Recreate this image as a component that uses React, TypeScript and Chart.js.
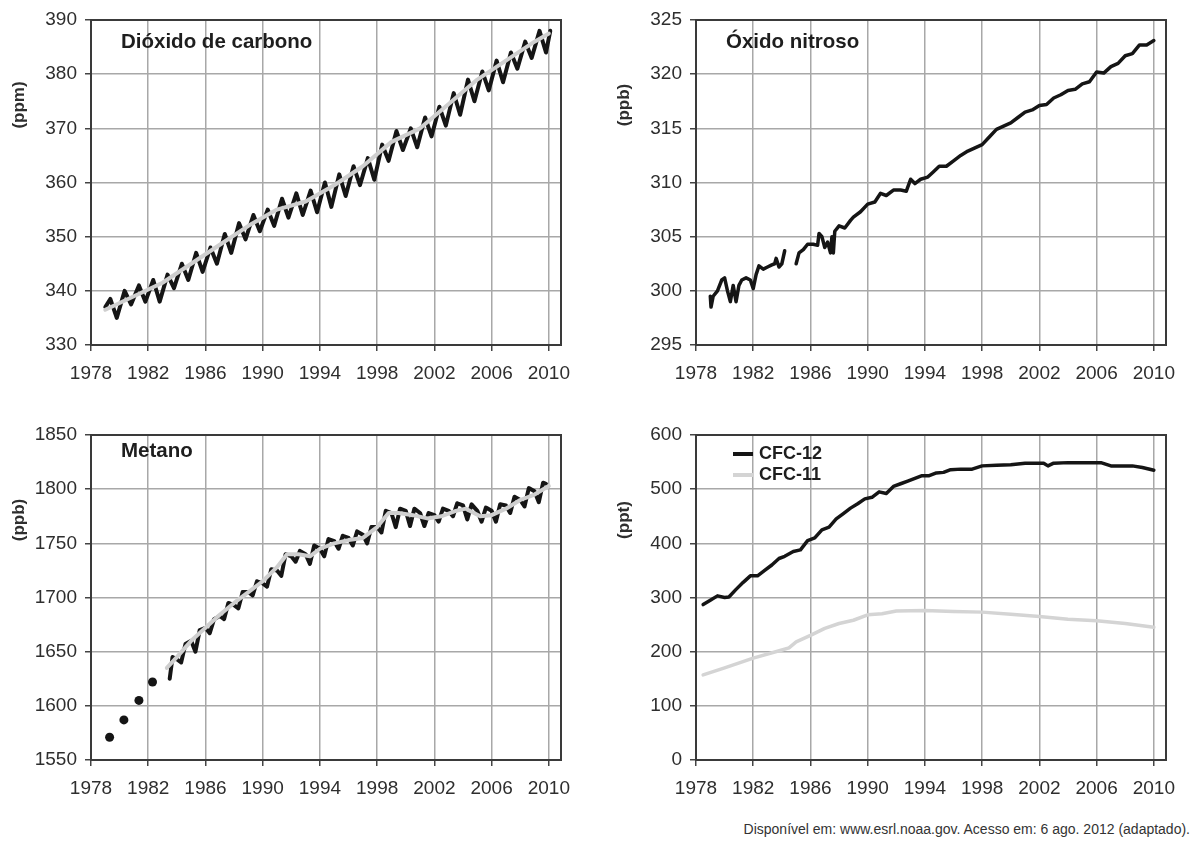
import { useEffect, useRef } from 'react';
import { Chart, registerables } from 'chart.js';

Chart.register(...registerables);

// eixo x comum
const xTickYears = [1978, 1982, 1986, 1990, 1994, 1998, 2002, 2006, 2010];

// Dióxido de carbono (ppm) – serie mensal (picos / vales) e tendencia
const co2Years = [
  1979.0, 1979.35, 1979.8, 1980.35, 1980.8, 1981.35, 1981.8, 1982.35, 1982.8, 1983.35, 1983.8,
  1984.35, 1984.8, 1985.35, 1985.8, 1986.35, 1986.8, 1987.35, 1987.8, 1988.35, 1988.8, 1989.35,
  1989.8, 1990.35, 1990.8, 1991.35, 1991.8, 1992.35, 1992.8, 1993.35, 1993.8, 1994.35, 1994.8,
  1995.35, 1995.8, 1996.35, 1996.8, 1997.35, 1997.8, 1998.35, 1998.8, 1999.35, 1999.8, 2000.35,
  2000.8, 2001.35, 2001.8, 2002.35, 2002.8, 2003.35, 2003.8, 2004.35, 2004.8, 2005.35, 2005.8,
  2006.35, 2006.8, 2007.35, 2007.8, 2008.35, 2008.8, 2009.35, 2009.8, 2010.1,
];
const co2Values = [
  337, 338.5, 335, 340, 337.5, 341, 338, 342, 338, 343, 340.5,
  345, 342, 347, 343.5, 348, 345, 350.5, 347, 352.5, 349.5, 354,
  351, 355, 352, 357, 353.5, 358, 354, 358.5, 354.5, 360, 355.5,
  361.5, 357.5, 363, 359.5, 364.5, 360.5, 367, 364, 369.5, 366, 370,
  366.5, 372, 368.5, 374, 370.5, 376.5, 372.5, 379, 375, 380.5, 377,
  382.5, 378.5, 384, 381, 386, 383, 388, 384, 388,
];
const co2TrendYears = [1979, 1981, 1983, 1985, 1987, 1989, 1991, 1993, 1995, 1997, 1999, 2001, 2003, 2005, 2007, 2009, 2010];
const co2TrendValues = [336.5, 339, 341.5, 345, 348.5, 352, 355, 356.5, 359.5, 363, 367.5, 370, 374.5, 379, 382.5, 386, 387.5];

// Óxido nitroso (ppb) – duas partes com falha em 1984
const n2oEarlyYears = [
  1979.0, 1979.05, 1979.2, 1979.5, 1979.8, 1980.0, 1980.2, 1980.4, 1980.6, 1980.8, 1981.0,
  1981.2, 1981.5, 1981.8, 1982.0, 1982.2, 1982.4, 1982.7, 1983.0, 1983.3, 1983.5, 1983.6,
  1983.8, 1984.0, 1984.2,
];
const n2oEarlyValues = [
  299.5, 298.5, 299.5, 300, 301, 301.2, 300, 299, 300.5, 299, 300.5,
  301, 301.2, 301, 300.2, 301.5, 302.3, 302, 302.2, 302.4, 302.5, 303,
  302.2, 302.5, 303.7,
];
const n2oLateYears = [
  1985.0, 1985.2, 1985.5, 1985.8, 1986.2, 1986.5, 1986.6, 1986.8, 1987.0, 1987.2, 1987.4,
  1987.5, 1987.6, 1987.7, 1988.0, 1988.4, 1988.8, 1989.0, 1989.5, 1990.0, 1990.5, 1990.9,
  1991.3, 1991.8, 1992.3, 1992.7, 1993.0, 1993.3, 1993.7, 1994.2, 1994.6, 1995.0, 1995.5,
  1996.0, 1996.5, 1997.0, 1997.5, 1998.0, 1998.5, 1999.0, 1999.5, 2000.0, 2000.5, 2001.0,
  2001.5, 2002.0, 2002.5, 2003.0, 2003.5, 2004.0, 2004.5, 2005.0, 2005.5, 2006.0, 2006.5,
  2007.0, 2007.5, 2008.0, 2008.5, 2009.0, 2009.5, 2010.0,
];
const n2oLateValues = [
  302.5, 303.5, 303.8, 304.3, 304.3, 304.2, 305.3, 305, 304, 304.5, 303.5,
  305, 303.5, 305.5, 306, 305.8, 306.5, 306.8, 307.3, 308, 308.2, 309,
  308.8, 309.3, 309.3, 309.2, 310.3, 309.9, 310.3, 310.5, 311, 311.5, 311.5,
  312, 312.5, 312.9, 313.2, 313.5, 314.2, 314.9, 315.2, 315.5, 316, 316.5,
  316.7, 317.1, 317.2, 317.8, 318.1, 318.5, 318.6, 319.1, 319.3, 320.2, 320.1,
  320.7, 321, 321.7, 321.9, 322.7, 322.7, 323.1,
];

// Metano (ppb) – medidas antigas (pontos), serie e tendencia
const ch4DotYears = [1979.3, 1980.3, 1981.35, 1982.3];
const ch4DotValues = [1571, 1587, 1605, 1622];
const ch4Years = [
  1983.5, 1983.7, 1984.0, 1984.3, 1984.6, 1985.0, 1985.3, 1985.6, 1986.0, 1986.3, 1986.6,
  1987.0, 1987.3, 1987.6, 1988.0, 1988.3, 1988.6, 1989.0, 1989.3, 1989.6, 1990.0, 1990.3,
  1990.6, 1991.0, 1991.3, 1991.6, 1992.0, 1992.3, 1992.6, 1993.0, 1993.3, 1993.6, 1994.0,
  1994.3, 1994.6, 1995.0, 1995.3, 1995.6, 1996.0, 1996.3, 1996.6, 1997.0, 1997.3, 1997.6,
  1998.0, 1998.3, 1998.6, 1999.0, 1999.3, 1999.6, 2000.0, 2000.3, 2000.6, 2001.0, 2001.3,
  2001.6, 2002.0, 2002.3, 2002.6, 2003.0, 2003.3, 2003.6, 2004.0, 2004.3, 2004.6, 2005.0,
  2005.3, 2005.6, 2006.0, 2006.3, 2006.6, 2007.0, 2007.3, 2007.6, 2008.0, 2008.3, 2008.6,
  2009.0, 2009.3, 2009.6, 2009.8,
];
const ch4Values = [
  1625, 1645, 1643, 1640, 1657, 1660, 1650, 1670, 1672, 1667, 1680,
  1683, 1680, 1695, 1693, 1690, 1705, 1705, 1702, 1715, 1713, 1710,
  1726, 1725, 1720, 1740, 1738, 1733, 1743, 1740, 1731, 1748, 1745,
  1738, 1754, 1752, 1745, 1757, 1755, 1748, 1761, 1758, 1750, 1765,
  1765, 1760, 1780, 1778, 1765, 1782, 1780, 1766, 1782, 1778, 1766,
  1778, 1776, 1770, 1782, 1780, 1775, 1787, 1785, 1772, 1786, 1780,
  1770, 1783, 1780, 1770, 1786, 1785, 1778, 1793, 1790, 1784, 1801,
  1798, 1788, 1806, 1805,
];
const ch4TrendYears = [
  1983.3, 1984, 1985, 1986, 1987, 1988, 1989, 1990, 1991, 1991.7, 1992.5, 1993.3, 1994, 1995,
  1996, 1997, 1998, 1998.8, 1999.5, 2000.5, 2001.5, 2002.5, 2003.5, 2004.2, 2005.2, 2006, 2007,
  2008, 2009, 2010,
];
const ch4TrendValues = [
  1635, 1645, 1660, 1672, 1684, 1695, 1705, 1715, 1728, 1740, 1740, 1738, 1745, 1750,
  1753, 1755, 1765, 1778, 1778, 1776, 1773, 1775, 1780, 1782, 1775, 1776, 1782,
  1790, 1795, 1803,
];

// CFC (ppt)
const cfc12Years = [
  1978.5, 1979, 1979.5, 1980.0, 1980.3, 1980.8, 1981.3, 1981.8, 1982.3, 1982.8, 1983.3, 1983.8,
  1984.2, 1984.8, 1985.3, 1985.8, 1986.3, 1986.8, 1987.3, 1987.8, 1988.3, 1988.8, 1989.3, 1989.8,
  1990.3, 1990.8, 1991.3, 1991.8, 1992.3, 1992.8, 1993.3, 1993.8, 1994.3, 1994.8, 1995.3, 1995.8,
  1996.5, 1997.3, 1998.0, 1999, 2000, 2001, 2002.3, 2002.6, 2003, 2004, 2005, 2006.3, 2007,
  2008.5, 2009.2, 2010.0,
];
const cfc12Values = [
  287, 295, 303, 300, 301, 315, 328, 340, 340, 350, 360, 372,
  376, 385, 388, 405, 410, 425, 430, 445, 455, 465, 473, 482,
  485, 495, 492, 505, 510, 515, 520, 525, 525, 530, 531, 536,
  537, 537, 543, 544, 545, 548, 548, 543, 548, 549, 549, 549, 543,
  543, 540, 535,
];
const cfc11Years = [1978.5, 1980, 1982, 1984, 1984.5, 1985, 1986, 1987, 1988, 1989, 1990, 1991, 1992, 1994, 1996, 1998, 2000, 2002, 2004, 2006, 2008, 2010];
const cfc11Values = [157, 170, 188, 203, 207, 218, 230, 243, 252, 258, 268, 270, 275, 276, 274, 273, 269, 265, 260, 257, 252, 245];

const FONT = '"Liberation Sans", Arial, Helvetica, sans-serif';
const TEXT = '#2e2e2e';

interface Series {
  label: string;
  years: number[];
  values: number[];
  color: string;
  width: number;
  order: number;
  dots?: boolean;
}

interface PanelProps {
  left: number;
  top: number;
  yMin: number;
  yMax: number;
  yStep: number;
  unit: string;
  title?: string;
  titleDy?: number;
  series: Series[];
  legend?: Series[];
}

function Panel({ left, top, yMin, yMax, yStep, unit, title, titleDy = 22, series, legend }: PanelProps) {
  const canvasRef = useRef<HTMLCanvasElement | null>(null);

  useEffect(() => {
    if (!canvasRef.current) return;

    const decor = {
      id: 'decor',
      afterDraw(chart: Chart) {
        const { ctx, chartArea: a } = chart;
        ctx.save();
        // moldura
        ctx.strokeStyle = '#3a3a3a';
        ctx.lineWidth = 2;
        ctx.strokeRect(a.left, a.top, a.right - a.left, a.bottom - a.top);
        // unidade
        ctx.fillStyle = TEXT;
        ctx.font = `bold 17px ${FONT}`;
        ctx.textAlign = 'center';
        ctx.textBaseline = 'middle';
        ctx.save();
        ctx.translate(a.left - 72, a.top + 85);
        ctx.rotate(-Math.PI / 2);
        ctx.fillText(unit, 0, 0);
        ctx.restore();
        // titulo
        if (title) {
          ctx.fillStyle = '#1e1e1e';
          ctx.font = `bold 20.5px ${FONT}`;
          ctx.textAlign = 'left';
          ctx.fillText(title, a.left + 30, a.top + titleDy);
        }
        // legenda
        if (legend) {
          legend.forEach((s, i) => {
            const y = a.top + 19 + i * 21;
            ctx.strokeStyle = s.color;
            ctx.lineWidth = 4;
            ctx.beginPath();
            ctx.moveTo(a.left + 37, y);
            ctx.lineTo(a.left + 57, y);
            ctx.stroke();
            ctx.fillStyle = '#1e1e1e';
            ctx.font = `bold 18px ${FONT}`;
            ctx.textAlign = 'left';
            ctx.fillText(s.label, a.left + 63, y);
          });
        }
        ctx.restore();
      },
    };

    const chart = new Chart(canvasRef.current, {
      type: 'line',
      data: {
        datasets: series.map((s) => ({
          label: s.label,
          data: s.years.map((x, i) => ({ x, y: s.values[i] })),
          borderColor: s.color,
          backgroundColor: s.color,
          borderWidth: s.width,
          showLine: !s.dots,
          pointRadius: s.dots ? 4.5 : 0,
          pointBorderWidth: 0,
          tension: 0,
          borderJoinStyle: 'round' as const,
          borderCapStyle: 'round' as const,
          order: s.order,
        })),
      },
      options: {
        responsive: false,
        animation: false,
        layout: { padding: { top: 20, right: 39, left: 0, bottom: 0 } },
        plugins: {
          legend: { display: false },
          tooltip: { enabled: false },
        },
        scales: {
          x: {
            type: 'linear',
            min: 1978,
            max: 2010.85,
            afterBuildTicks: (scale: any) => {
              scale.ticks = xTickYears.map((value) => ({ value }));
            },
            afterFit: (scale: any) => {
              scale.height = 55;
            },
            grid: { color: '#a8a8a8', lineWidth: 1.5, tickLength: 6, tickColor: '#444' },
            border: { color: '#3a3a3a', width: 2 },
            ticks: {
              color: TEXT,
              font: { family: FONT, size: 19 },
              padding: 11,
              maxRotation: 0,
              autoSkip: false,
              callback: (v: any) => String(v),
            },
          },
          y: {
            min: yMin,
            max: yMax,
            afterFit: (scale: any) => {
              scale.width = 91;
            },
            grid: { color: '#a8a8a8', lineWidth: 1.5, tickLength: 6, tickColor: '#444' },
            border: { color: '#3a3a3a', width: 2 },
            ticks: {
              stepSize: yStep,
              color: TEXT,
              font: { family: FONT, size: 19 },
              padding: 8,
              callback: (v: any) => String(v),
            },
          },
        },
      },
      plugins: [decor],
    });

    return () => {
      chart.destroy();
    };
  }, []);

  return (
    <canvas
      ref={canvasRef}
      width={600}
      height={400}
      style={{ position: 'absolute', left, top, width: 600, height: 400 }}
    />
  );
}

const BLACK = '#151515';
const LIGHT = '#cfcfcf';

export default function App() {
  const cfc12: Series = { label: 'CFC-12', years: cfc12Years, values: cfc12Values, color: BLACK, width: 3.5, order: 0 };
  const cfc11: Series = { label: 'CFC-11', years: cfc11Years, values: cfc11Values, color: '#d4d4d4', width: 3.5, order: 1 };

  return (
    <div style={{ position: 'absolute', left: 0, top: 0, width: 1200, height: 857, background: '#fff', overflow: 'hidden' }}>
      <Panel
        left={0}
        top={0}
        yMin={330}
        yMax={390}
        yStep={10}
        unit="(ppm)"
        title="Dióxido de carbono"
        series={[
          { label: 'Tendência', years: co2TrendYears, values: co2TrendValues, color: LIGHT, width: 4, order: 0 },
          { label: 'CO2', years: co2Years, values: co2Values, color: BLACK, width: 4, order: 1 },
        ]}
      />
      <Panel
        left={605}
        top={0}
        yMin={295}
        yMax={325}
        yStep={5}
        unit="(ppb)"
        title="Óxido nitroso"
        series={[
          { label: 'N2O', years: n2oEarlyYears, values: n2oEarlyValues, color: BLACK, width: 3.5, order: 0 },
          { label: 'N2O ', years: n2oLateYears, values: n2oLateValues, color: BLACK, width: 3.5, order: 0 },
        ]}
      />
      <Panel
        left={0}
        top={415}
        yMin={1550}
        yMax={1850}
        yStep={50}
        unit="(ppb)"
        title="Metano"
        titleDy={16}
        series={[
          { label: 'Tendência', years: ch4TrendYears, values: ch4TrendValues, color: LIGHT, width: 4, order: 0 },
          { label: 'CH4', years: ch4Years, values: ch4Values, color: BLACK, width: 4, order: 1 },
          { label: 'CH4 antigo', years: ch4DotYears, values: ch4DotValues, color: BLACK, width: 0, order: 1, dots: true },
        ]}
      />
      <Panel
        left={605}
        top={415}
        yMin={0}
        yMax={600}
        yStep={100}
        unit="(ppt)"
        series={[cfc12, cfc11]}
        legend={[cfc12, cfc11]}
      />
      <div
        style={{
          position: 'absolute',
          right: 10,
          top: 821,
          fontFamily: FONT,
          fontSize: 14,
          color: '#333',
        }}
      >
        Disponível em: www.esrl.noaa.gov. Acesso em: 6 ago. 2012 (adaptado).
      </div>
    </div>
  );
}
